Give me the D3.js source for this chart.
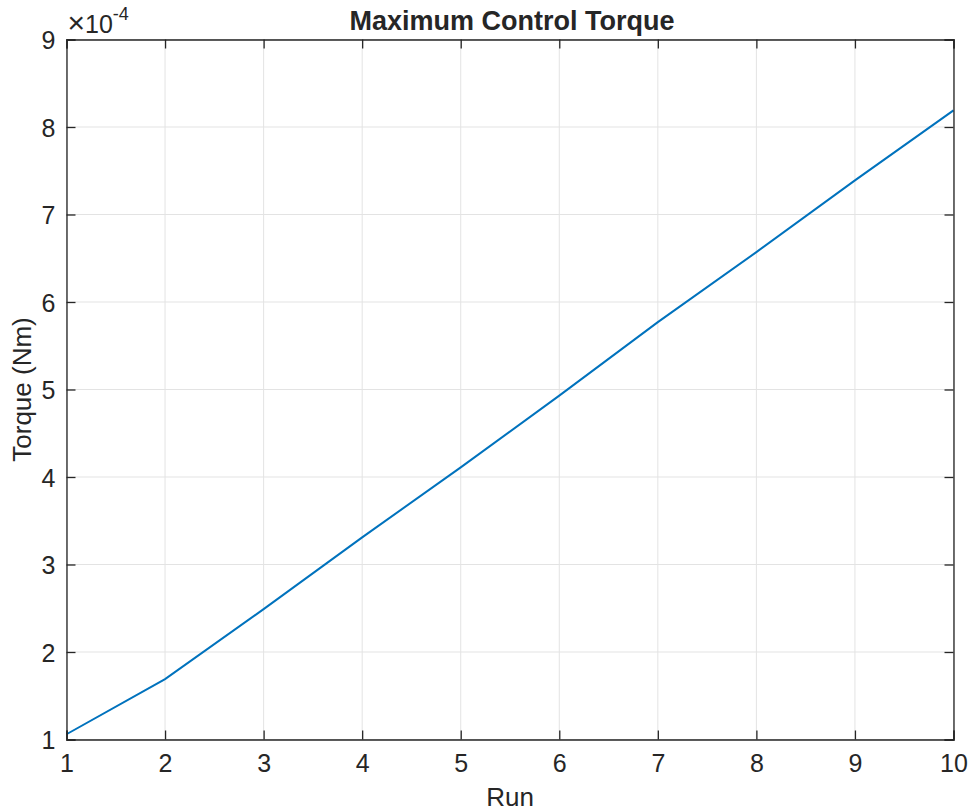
<!DOCTYPE html>
<html>
<head>
<meta charset="utf-8">
<script src="https://cdn.jsdelivr.net/npm/d3@7"></script>
<style>
  body { margin: 0; background: #fff; }
  text { font-family: "Liberation Sans", Arial, sans-serif; fill: #262626; }
</style>
</head>
<body>
<svg id="chart"></svg>
<script>
// run number vs max torque (units of 1e-4 Nm)
var runs = [1, 2, 3, 4, 5, 6, 7, 8, 9, 10];
var torque = [1.06, 1.69, 2.49, 3.31, 4.11, 4.93, 5.77, 6.57, 7.39, 8.19];
var xTicks = [1, 2, 3, 4, 5, 6, 7, 8, 9, 10];
var yTicks = [1, 2, 3, 4, 5, 6, 7, 8, 9];

var width = 970;
var height = 811;
var plotLeft = 66.5, plotRight = 953.5, plotTop = 39.5, plotBottom = 739.5;

var svg = d3.select("#chart")
    .attr("width", width)
    .attr("height", height);

var x = d3.scaleLinear().domain([1, 10]).range([plotLeft, plotRight]);
var y = d3.scaleLinear().domain([1, 9]).range([plotBottom, plotTop]);

// grid
svg.selectAll(".gx").data(xTicks).enter().append("line")
    .attr("x1", function(d) { return x(d); })
    .attr("x2", function(d) { return x(d); })
    .attr("y1", plotTop).attr("y2", plotBottom)
    .attr("stroke", "#e3e3e3").attr("stroke-width", 1);
svg.selectAll(".gy").data(yTicks).enter().append("line")
    .attr("y1", function(d) { return y(d); })
    .attr("y2", function(d) { return y(d); })
    .attr("x1", plotLeft).attr("x2", plotRight)
    .attr("stroke", "#e3e3e3").attr("stroke-width", 1);

// data line
var line = d3.line()
    .x(function(d, i) { return x(runs[i]); })
    .y(function(d) { return y(d); });

svg.append("path")
    .datum(torque)
    .attr("d", line)
    .attr("fill", "none")
    .attr("stroke", "#0072BD")
    .attr("stroke-width", 2);

// axes (ticks inside, box on)
var tickLen = 9;
var xAxis = d3.axisBottom(x).tickValues(xTicks).tickSize(-tickLen).tickPadding(15);
var yAxis = d3.axisLeft(y).tickValues(yTicks).tickSize(-tickLen).tickPadding(11);

var gx = svg.append("g").attr("transform", "translate(0," + plotBottom + ")").call(xAxis);
var gy = svg.append("g").attr("transform", "translate(" + plotLeft + ",0)").call(yAxis);
svg.append("g").attr("transform", "translate(0," + plotTop + ")")
    .call(d3.axisTop(x).tickValues(xTicks).tickSize(-tickLen).tickFormat(""));
svg.append("g").attr("transform", "translate(" + plotRight + ",0)")
    .call(d3.axisRight(y).tickValues(yTicks).tickSize(-tickLen).tickFormat(""));

svg.selectAll(".domain").attr("stroke", "#262626").attr("stroke-width", 1.3);
svg.selectAll(".tick line").attr("stroke", "#262626").attr("stroke-width", 1.3);
svg.selectAll(".tick text")
    .style("font-family", "'Liberation Sans', Arial, sans-serif")
    .style("font-size", "25px")
    .attr("fill", "#262626");
gx.selectAll(".tick text").attr("dy", "0.71em");
gy.selectAll(".tick text").attr("dx", "0").attr("dy", "0.36em");

// exponent label
var ex = svg.append("text")
    .attr("x", plotLeft + 1)
    .attr("y", 33)
    .style("font-size", "25px");
ex.append("tspan").style("font-size", "30px").text("\u00d7");
ex.append("tspan").text("10");
ex.append("tspan").attr("dy", -13).style("font-size", "18px").text("-4");

// title and labels
svg.append("text")
    .attr("x", (plotLeft + plotRight) / 2 + 2)
    .attr("y", 30)
    .attr("text-anchor", "middle")
    .style("font-size", "27px")
    .style("font-weight", "bold")
    .attr("fill", "#000")
    .text("Maximum Control Torque");

svg.append("text")
    .attr("x", (plotLeft + plotRight) / 2)
    .attr("y", 806)
    .attr("text-anchor", "middle")
    .style("font-size", "26px")
    .text("Run");

svg.append("text")
    .attr("transform", "translate(31," + (plotTop + plotBottom) / 2 + ") rotate(-90)")
    .attr("text-anchor", "middle")
    .style("font-size", "26px")
    .text("Torque (Nm)");
</script>
</body>
</html>
